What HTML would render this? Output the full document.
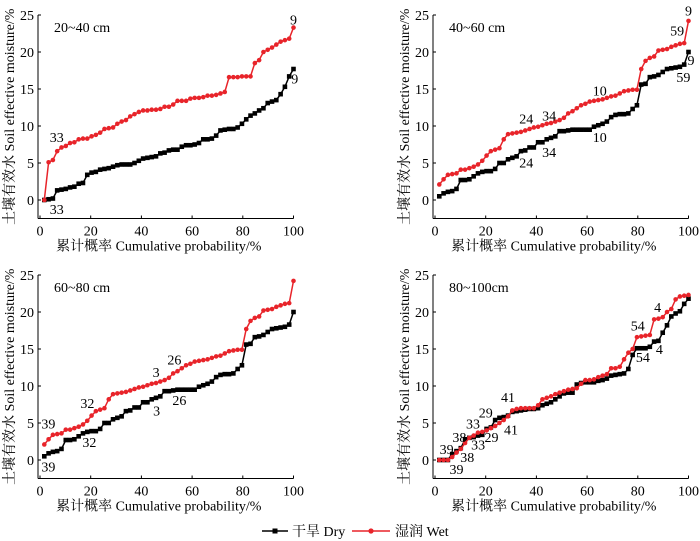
<!DOCTYPE html>
<html><head><meta charset="utf-8"><style>
html,body{margin:0;padding:0;background:#fff;}
svg{display:block;}
svg text, text{font-family:"Liberation Serif","Times New Roman","Noto Serif CJK SC","DejaVu Serif",serif;}
</style></head><body>
<svg id="chart" width="700" height="541" viewBox="0 0 700 541" xmlns="http://www.w3.org/2000/svg">
<g>
 <g>
  <line x1="262" y1="531" x2="288" y2="531" stroke="#000" stroke-width="1.6"/>
  <rect x="272.5" y="528.5" width="5" height="5" fill="#000"/>
  <text x="292" y="536" font-size="14" font-family="Liberation Serif, Noto Serif CJK SC, serif">干旱 Dry</text>
 </g>
 <g>
  <line x1="352" y1="531" x2="390" y2="531" stroke="#e8242a" stroke-width="1.6"/>
  <circle cx="371" cy="531" r="2.6" fill="#e8242a"/>
  <text x="395" y="536" font-size="14" font-family="Liberation Serif, Noto Serif CJK SC, serif">湿润 Wet</text>
 </g>
</g>
</svg>
<script>
const p1Dry=[0,0.1,0.2,1.3,1.4,1.5,1.7,1.8,2.2,2.3,3.4,3.7,3.8,4.1,4.2,4.3,4.5,4.7,4.8,4.8,4.8,5.0,5.3,5.6,5.7,5.8,5.9,6.3,6.4,6.7,6.8,6.8,7.2,7.4,7.4,7.5,7.7,8.2,8.2,8.3,8.7,9.4,9.5,9.6,9.6,9.8,10.3,10.9,11.4,11.7,12.1,12.4,13.1,13.3,13.5,14.3,15.3,16.7,17.7];
const p1Wet=[0,5.1,5.4,6.6,7.1,7.3,7.7,7.8,8.2,8.3,8.3,8.6,8.8,9.1,9.6,9.7,9.8,10.3,10.6,10.8,11.3,11.6,11.9,12.1,12.1,12.2,12.2,12.3,12.6,12.6,12.9,13.4,13.4,13.4,13.7,13.8,13.8,13.9,14.1,14.1,14.2,14.4,14.6,16.6,16.6,16.6,16.7,16.7,16.7,18.5,18.9,20.0,20.3,20.6,21.0,21.4,21.6,21.8,23.3];
const p2Dry=[0.5,0.9,1.1,1.2,1.5,2.7,2.7,2.8,3.2,3.6,3.8,3.9,3.9,4.2,5.0,5.0,5.5,5.7,5.9,6.6,6.7,7.1,7.1,7.8,7.8,8.2,8.4,8.6,9.3,9.3,9.4,9.5,9.5,9.5,9.5,9.5,9.9,10.1,10.3,10.6,11.2,11.5,11.6,11.6,11.7,12.3,12.8,15.6,15.7,16.6,16.7,16.9,17.3,17.7,17.8,17.9,18.0,18.3,20.0];
const p2Wet=[2.1,2.8,3.4,3.5,3.6,4.1,4.1,4.3,4.5,4.8,5.3,6.0,6.6,6.8,7.0,8.2,8.9,9.0,9.1,9.2,9.4,9.6,9.8,9.9,10.1,10.3,10.4,10.6,10.8,11.1,11.7,12.0,12.4,12.8,13.0,13.3,13.4,13.5,13.6,13.8,14.0,14.1,14.4,14.7,14.8,14.9,14.9,17.7,18.8,19.2,19.4,20.2,20.3,20.4,20.7,20.9,21.1,21.2,24.2];
const p3Dry=[0.5,0.9,1.1,1.2,1.5,2.7,2.7,2.8,3.2,3.6,3.8,3.9,3.9,4.2,5.0,5.0,5.5,5.7,5.9,6.6,6.7,7.1,7.1,7.8,7.8,8.2,8.4,8.6,9.3,9.3,9.4,9.5,9.5,9.5,9.5,9.5,9.9,10.1,10.3,10.6,11.2,11.5,11.6,11.6,11.7,12.3,12.8,15.6,15.7,16.6,16.7,16.9,17.3,17.7,17.8,17.9,18.0,18.3,20.0];
const p3Wet=[2.1,2.8,3.4,3.5,3.6,4.1,4.1,4.3,4.5,4.8,5.3,6.0,6.6,6.8,7.0,8.2,8.9,9.0,9.1,9.2,9.4,9.6,9.8,9.9,10.1,10.3,10.4,10.6,10.8,11.1,11.7,12.0,12.4,12.8,13.0,13.3,13.4,13.5,13.6,13.8,14.0,14.1,14.4,14.7,14.8,14.9,14.9,17.7,18.8,19.2,19.4,20.2,20.3,20.4,20.7,20.9,21.1,21.2,24.2];
const p4Dry=[0,0,0,0.8,1.2,1.6,2.8,3.0,3.1,3.3,3.4,4.2,4.4,5.4,5.7,5.8,6.0,6.5,6.6,6.7,6.8,6.9,6.9,7.0,7.4,7.6,7.8,8.2,8.6,9.0,9.1,9.1,10.2,10.4,10.5,10.5,10.5,10.7,10.8,11.0,11.4,11.5,11.6,11.7,12.3,14.2,15.1,15.1,15.1,15.3,16.0,16.1,17.2,18.2,19.4,19.8,20.1,21.1,21.8];
const p4Wet=[0,0,0,0.4,1.0,1.5,2.3,3.0,3.3,3.7,3.8,4.0,4.3,4.6,5.0,5.4,5.9,6.7,6.9,7.0,7.0,7.0,7.0,7.4,8.2,8.4,8.6,8.9,9.1,9.3,9.5,9.6,9.7,10.3,10.8,10.8,10.9,11.2,11.4,11.6,12.4,12.4,12.6,13.6,14.5,15.0,16.6,16.7,16.8,16.9,19.0,19.1,19.3,20.0,20.4,21.7,22.1,22.2,22.3];
const xTicks=[0,20,40,60,80,100];
const yTicks=[0,5,10,15,20,25];
const panelTitles=["20~40 cm","40~60 cm","60~80 cm","80~100cm"];
const ann1=[["9",100,24.4],["9",100.5,16.4],["33",6.6,8.5],["33",6.6,-1.2]];
const ann2=[["9",100,25.6],["59",95.5,22.9],["9",101,18.9],["59",98,16.6],["10",65,14.8],["10",65,8.5],["24",36,11],["34",45,11.4],["24",36,5.1],["34",45,6.5]];
const ann3=[["39",3.3,4.9],["39",3.3,-0.9],["32",18.7,7.7],["32",19.5,2.4],["3",45.8,11.9],["3",46,6.7],["26",53,13.6],["26",55,8.1]];
const ann4=[["4",87.8,20.7],["4",88.5,15],["54",80,18.2],["54",82,13.9],["41",28.8,8.5],["41",30,4.1],["29",20,6.4],["29",22.3,3.1],["33",15,4.9],["33",17,2.1],["38",9.6,3.1],["38",12.7,0.4],["39",4.6,1.5],["39",8.5,-1.2]];

const NS="http://www.w3.org/2000/svg";
const FONT="Liberation Serif, Noto Serif CJK SC, serif";
const svg=document.getElementById('chart');
function mk(tag,attrs,parent){const e=document.createElementNS(NS,tag);for(const k in attrs)e.setAttribute(k,attrs[k]);if(tag==='text')e.setAttribute('font-family',FONT);parent.appendChild(e);return e;}
const panels=[
 {L:40,B:200,dry:p1Dry,wet:p1Wet,ann:ann1},
 {L:435,B:200,dry:p2Dry,wet:p2Wet,ann:ann2},
 {L:40,B:460,dry:p3Dry,wet:p3Wet,ann:ann3},
 {L:435,B:460,dry:p4Dry,wet:p4Wet,ann:ann4}
];
panels.forEach((p,pi)=>{
 const W=253.5, U=7.4;
 const sx=v=>p.L+v/100*W;
 const sy=v=>p.B-v*U;
 const g=mk('g',{},svg);
 
 
 const ax=p.L-2, ab=sy(-2.5);
 const yAxis=mk('line',{x1:ax,y1:sy(25),x2:ax,y2:ab,stroke:'#000','stroke-width':1},g);
 
 
 const xAxis=mk('line',{x1:ax,y1:ab,x2:sx(100),y2:ab,stroke:'#000','stroke-width':1},g);
 
 
 yTicks.forEach(t=>{
  const tk=mk('line',{x1:ax,y1:sy(t),x2:ax+3,y2:sy(t),stroke:'#000'},g);
  
  
  const tl=mk('text',{x:ax-4,y:sy(t)+5,'font-size':14,'text-anchor':'end'},g);
  tl.textContent=t;
  
  
 });
 xTicks.forEach(t=>{
  const tk=mk('line',{x1:sx(t),y1:ab,x2:sx(t),y2:ab-3,stroke:'#000'},g);
  
  
  const tl=mk('text',{x:sx(t),y:ab+17,'font-size':14,'text-anchor':'middle'},g);
  tl.textContent=t;
  
  
 });
 const xt=mk('text',{x:sx(50)-8,y:ab+32,'font-size':14,'text-anchor':'middle'},g);
 xt.textContent='累计概率 Cumulative probability/%';
 
 
 const cy=(sy(25)+ab)/2;
 const yt=mk('text',{x:0,y:0,'font-size':14,'text-anchor':'middle',transform:`translate(${p.L-26},${cy}) rotate(-90)`},g);
 yt.textContent='土壤有效水 Soil effective moisture/%';
 
 
 const pt=mk('text',{x:p.L+14,y:sy(25)+17,'font-size':14},g);
 pt.textContent=panelTitles[pi];
 
 
 [['dry',p.dry,'#000'],['wet',p.wet,'#e8242a']].forEach(([nm,arr,col])=>{
  const n=arr.length;
  const xs=arr.map((v,i)=>sx(100*(i+1)/n));
  const d=arr.map((v,i)=>(i?'L':'M')+xs[i].toFixed(1)+','+sy(v).toFixed(1)).join('');
  const path=mk('path',{d:d,fill:'none',stroke:col,'stroke-width':1.5},g);
  
  
  arr.forEach((v,i)=>{
   let m;
   if(nm==='dry') m=mk('rect',{x:xs[i]-2.3,y:sy(v)-2.3,width:4.6,height:4.6,fill:col},g);
   else m=mk('circle',{cx:xs[i],cy:sy(v),r:2.3,fill:col},g);
   
   
  });
 });
 p.ann.forEach(a=>{
  const t=mk('text',{x:sx(a[1]),y:sy(a[2])+5,'font-size':14,'text-anchor':'middle'},g);
  t.textContent=a[0];
  
  
 });
});
</script>
</body></html>
